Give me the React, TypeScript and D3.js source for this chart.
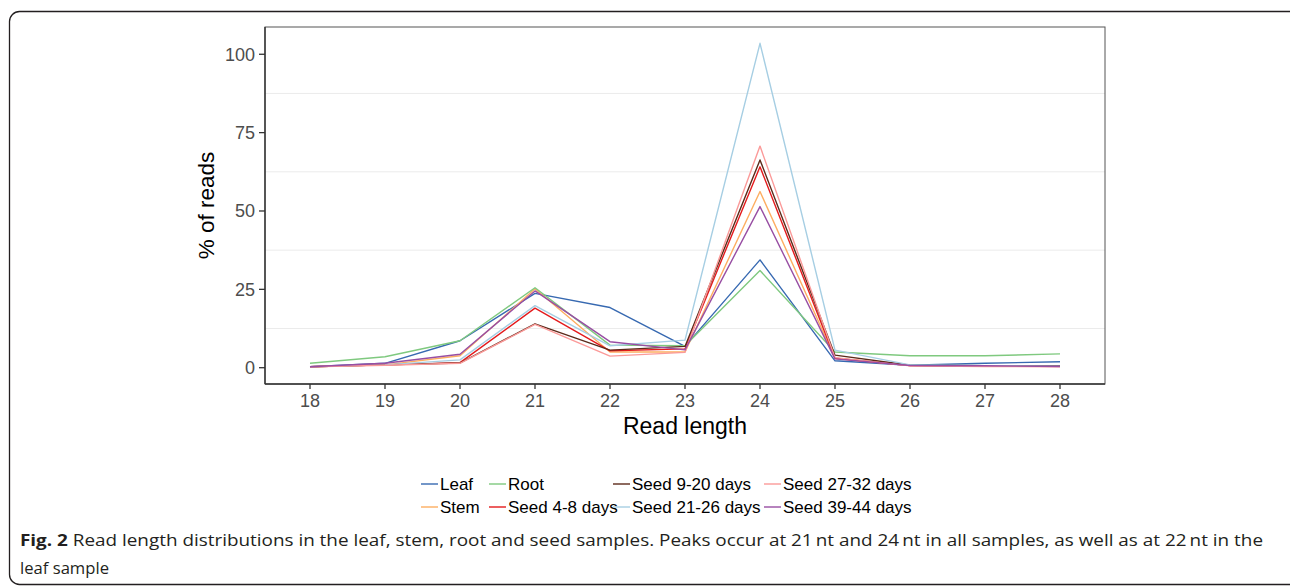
import React from "react"
import * as d3 from "d3"

// read lengths on the x axis
const readLengths = [18, 19, 20, 21, 22, 23, 24, 25, 26, 27, 28]

// % of reads per sample
const leaf = [0.3, 1.4, 8.6, 23.7, 19.2, 6.8, 34.4, 2.2, 0.8, 1.4, 1.9]
const stem = [0.3, 0.9, 3.8, 25.2, 5.0, 5.0, 56.2, 3.0, 0.7, 0.6, 0.5]
const root = [1.4, 3.5, 8.6, 25.5, 7.2, 7.0, 31.0, 5.0, 3.8, 3.8, 4.4]
const seed4to8 = [0.3, 0.9, 1.6, 19.0, 5.4, 6.0, 64.1, 3.0, 0.7, 0.5, 0.5]
const seed9to20 = [0.3, 0.9, 1.5, 14.0, 5.6, 6.8, 66.3, 4.0, 0.8, 0.6, 0.6]
const seed21to26 = [0.3, 0.9, 2.5, 19.8, 7.0, 8.8, 103.5, 5.6, 0.9, 0.6, 0.5]
const seed27to32 = [0.3, 0.8, 1.4, 13.8, 3.7, 4.9, 70.7, 3.2, 0.6, 0.4, 0.3]
const seed39to44 = [0.3, 1.4, 4.3, 24.5, 8.3, 5.7, 51.4, 2.8, 0.7, 0.6, 0.4]

const sampleNames = [
  "Leaf",
  "Stem",
  "Root",
  "Seed 4-8 days",
  "Seed 9-20 days",
  "Seed 21-26 days",
  "Seed 27-32 days",
  "Seed 39-44 days",
]
const sampleValues = [leaf, stem, root, seed4to8, seed9to20, seed21to26, seed27to32, seed39to44]
const sampleColors = ["#3769B1", "#FDAE61", "#7FC97F", "#E41A1C", "#5C2A1A", "#A6CEE3", "#FB9A99", "#984EA3"]

const yTicks = [0, 25, 50, 75, 100]
const yMinorGrid = [12.5, 37.5, 62.5, 87.5]

const captionLine1 =
  " Read length distributions in the leaf, stem, root and seed samples. Peaks occur at 21\u2009nt and 24\u2009nt in all samples, as well as at 22\u2009nt in the"
const captionLine2 = "leaf sample"

const W = 1290
const H = 588
const panel = { left: 265, right: 1105, top: 27, bottom: 384 }
const font = "'Liberation Sans', Arial, Helvetica, sans-serif"

export default function App() {
  const x = d3.scaleLinear().domain([17.4, 28.6]).range([panel.left, panel.right])
  const y = d3.scaleLinear().domain([-5.2, 108.7]).range([panel.bottom, panel.top])

  const line = d3
    .line<number>()
    .x((_, i) => x(readLengths[i]))
    .y((d) => y(d))

  // legend: ggplot fills 2 rows column by column
  const legendCols = [421, 489, 613, 764]
  const legendRows = [484, 507]

  return (
    <svg width={W} height={H} style={{ position: "absolute", left: 0, top: 0, background: "#fff" }}>
      {/* figure frame */}
      <rect x={9.5} y={11.5} width={1295} height={573} rx={10} ry={10} fill="none" stroke="#231F20" strokeWidth={1.3} />

      {/* minor grid */}
      {yMinorGrid.map((g) => (
        <line key={g} x1={panel.left} x2={panel.right} y1={y(g)} y2={y(g)} stroke="#EBEBEB" strokeWidth={1} />
      ))}

      {/* series */}
      {sampleValues.map((vals, i) => (
        <path key={sampleNames[i]} d={line(vals) || ""} fill="none" stroke={sampleColors[i]} strokeWidth={1.4} strokeLinejoin="round" />
      ))}

      {/* panel border */}
      <rect
        x={panel.left}
        y={panel.top}
        width={panel.right - panel.left}
        height={panel.bottom - panel.top}
        fill="none"
        stroke="#555"
        strokeWidth={1}
      />
      <line x1={panel.left} x2={panel.left} y1={panel.top} y2={panel.bottom} stroke="#333" strokeWidth={1.4} />
      <line x1={panel.left} x2={panel.right} y1={panel.bottom} y2={panel.bottom} stroke="#333" strokeWidth={1.4} />

      {/* y axis */}
      {yTicks.map((t) => (
        <g key={t}>
          <line x1={panel.left - 6} x2={panel.left} y1={y(t)} y2={y(t)} stroke="#333" strokeWidth={1.3} />
          <text x={panel.left - 10} y={y(t)} dy="0.35em" textAnchor="end" fontFamily={font} fontSize={18} fill="#4D4D4D">
            {t}
          </text>
        </g>
      ))}

      {/* x axis */}
      {readLengths.map((t) => (
        <g key={t}>
          <line x1={x(t)} x2={x(t)} y1={panel.bottom} y2={panel.bottom + 5} stroke="#333" strokeWidth={1.3} />
          <text x={x(t)} y={407} textAnchor="middle" fontFamily={font} fontSize={18} fill="#4D4D4D">
            {t}
          </text>
        </g>
      ))}

      {/* axis titles */}
      <text x={(panel.left + panel.right) / 2} y={434} textAnchor="middle" fontFamily={font} fontSize={23} fill="#000">
        Read length
      </text>
      <text
        transform={`translate(214,${(panel.top + panel.bottom) / 2}) rotate(-90)`}
        textAnchor="middle"
        fontFamily={font}
        fontSize={22.5}
        fill="#000"
      >
        % of reads
      </text>

      {/* legend */}
      {sampleNames.map((name, i) => {
        const cx = legendCols[Math.floor(i / 2)]
        const cy = legendRows[i % 2]
        return (
          <g key={name}>
            <line x1={cx} x2={cx + 17} y1={cy} y2={cy} stroke={sampleColors[i]} strokeWidth={1.4} />
            <text x={cx + 19} y={cy} dy="0.36em" fontFamily={font} fontSize={17} fill="#000">
              {name}
            </text>
          </g>
        )
      })}

      {/* caption */}
      <text x={20} y={546} fontFamily="'Open Sans', 'Noto Sans', sans-serif" fontSize={16.5} fill="#231F20" textLength={1243} lengthAdjust="spacingAndGlyphs">
        <tspan fontWeight="bold">Fig. 2</tspan>
        <tspan>{captionLine1}</tspan>
      </text>
      <text x={20} y={574} fontFamily="'Open Sans', 'Noto Sans', sans-serif" fontSize={16.5} fill="#231F20" textLength={89} lengthAdjust="spacingAndGlyphs">
        {captionLine2}
      </text>
    </svg>
  )
}
